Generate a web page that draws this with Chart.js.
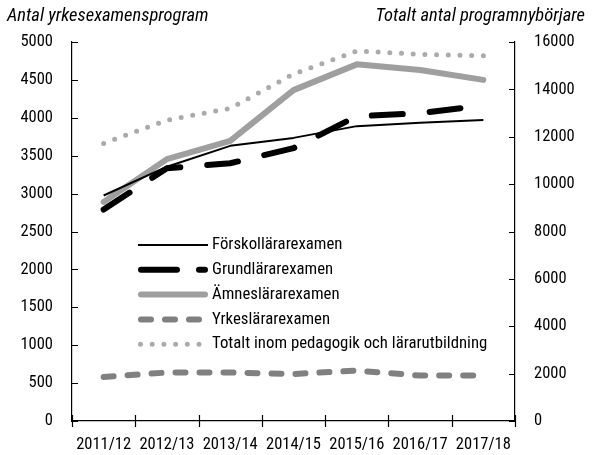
<!DOCTYPE html>
<html>
<head>
<meta charset="utf-8">
<script src="https://cdn.jsdelivr.net/npm/chart.js@4"></script>
<style>
  body { margin: 0; background: #fff; }
  #wrap { width: 592px; height: 455px; }
</style>
</head>
<body>
<div id="wrap"><canvas id="myChart" width="592" height="455"></canvas></div>
<script>
const fontFam = '"Roboto Condensed", "Liberation Sans Narrow", sans-serif';

const years = ['2011/12', '2012/13', '2013/14', '2014/15', '2015/16', '2016/17', '2017/18'];
const forskollarar = [2975, 3355, 3630, 3735, 3890, 3935, 3970];
const grundlarar = [2790, 3335, 3400, 3600, 4020, 4060, 4165];
const amneslarar = [2890, 3455, 3695, 4365, 4705, 4630, 4500];
const yrkeslarar = [580, 640, 640, 620, 665, 600, 600];
const totalt = [11720, 12700, 13200, 14650, 15620, 15480, 15420];

const leftTitle = 'Antal yrkesexamensprogram';
const rightTitle = 'Totalt antal programnybörjare';

// ticks pointing inward + titles + legend inside the plot
const extras = {
    id: 'extras',
    afterDraw(chart) {
        const ctx = chart.ctx;
        const area = chart.chartArea;
        const y = chart.scales.y, y2 = chart.scales.y2, x = chart.scales.x;
        ctx.save();
        ctx.strokeStyle = '#000';
        ctx.lineWidth = 1.2;
        ctx.setLineDash([]);
        ctx.beginPath();
        y.ticks.forEach(t => {
            const py = Math.round(y.getPixelForValue(t.value)) + 0.5;
            ctx.moveTo(area.left, py); ctx.lineTo(area.left + 6, py);
        });
        y2.ticks.forEach(t => {
            const py = Math.round(y2.getPixelForValue(t.value)) + 0.5;
            ctx.moveTo(area.right, py); ctx.lineTo(area.right - 6, py);
        });
        const step = (x.getPixelForValue(1) - x.getPixelForValue(0));
        for (let i = 0; i <= years.length; i++) {
            const px = Math.round(x.getPixelForValue(i) - step / 2) + 0.5;
            ctx.moveTo(px, area.bottom - 6); ctx.lineTo(px, area.bottom + 6);
        }
        ctx.stroke();

        // axis titles
        ctx.fillStyle = '#000';
        ctx.font = 'italic 18.5px ' + fontFam;
        ctx.textBaseline = 'alphabetic';
        ctx.textAlign = 'left';
        ctx.fillText(leftTitle, 7, 21);
        ctx.textAlign = 'right';
        ctx.fillText(rightTitle, 585, 21);

        // legend
        ctx.font = '16.8px ' + fontFam;
        ctx.textAlign = 'left';
        ctx.textBaseline = 'middle';
        const lx = area.left + 66;
        let ly = area.top + 203;
        chart.data.datasets.forEach(ds => {
            const cap = ds.borderCapStyle === 'round' ? ds.borderWidth / 2 : 0;
            ctx.save();
            ctx.strokeStyle = ds.borderColor;
            ctx.lineWidth = ds.borderWidth;
            ctx.lineCap = ds.borderCapStyle || 'butt';
            ctx.setLineDash(ds.legendDash || ds.borderDash || []);
            ctx.beginPath();
            ctx.moveTo(lx + cap, ly);
            ctx.lineTo(lx + 70 - cap, ly);
            ctx.stroke();
            ctx.restore();
            ctx.fillText(ds.label, lx + 74, ly);
            ly += 24.8;
        });
        ctx.restore();
    }
};

const plain = v => String(v);

const ctx = document.getElementById('myChart');
const chart = new Chart(ctx, {
    type: 'line',
    data: {
        labels: years,
        datasets: [{
            label: 'Förskollärarexamen',
            data: forskollarar,
            yAxisID: 'y',
            borderColor: '#000',
            borderWidth: 2,
            borderCapStyle: 'butt'
        }, {
            label: 'Grundlärarexamen',
            data: grundlarar,
            yAxisID: 'y',
            borderColor: '#000',
            borderWidth: 6,
            borderDash: [31, 27],
            legendDash: [36, 22],
            borderCapStyle: 'round'
        }, {
            label: 'Ämneslärarexamen',
            data: amneslarar,
            yAxisID: 'y',
            borderColor: '#9f9f9f',
            borderWidth: 6,
            borderCapStyle: 'round'
        }, {
            label: 'Yrkeslärarexamen',
            data: yrkeslarar,
            yAxisID: 'y',
            borderColor: '#808080',
            borderWidth: 6,
            borderDash: [10, 14],
            borderCapStyle: 'round'
        }, {
            label: 'Totalt inom pedagogik och lärarutbildning',
            data: totalt,
            yAxisID: 'y2',
            borderColor: '#ababab',
            borderWidth: 5,
            borderDash: [0, 11.7],
            borderCapStyle: 'round'
        }]
    },
    options: {
        responsive: false,
        animation: false,
        devicePixelRatio: 1,
        layout: { padding: { top: 42, left: 0, right: 0, bottom: 0 } },
        elements: { point: { radius: 0 }, line: { tension: 0, borderJoinStyle: 'round' } },
        plugins: { legend: { display: false }, tooltip: { enabled: false } },
        scales: {
            x: {
                offset: true,
                grid: { display: false, drawTicks: false },
                border: { display: true, color: '#000', width: 1.2 },
                ticks: { color: '#000', padding: 14, maxRotation: 0, autoSkip: false,
                    font: { family: fontFam, size: 16.5 } },
                afterFit(s) { s.height = 34; }
            },
            y: {
                position: 'left',
                min: 0, max: 5000,
                grid: { display: false, drawTicks: false },
                border: { display: true, color: '#000', width: 1.2 },
                ticks: { stepSize: 500, color: '#000', padding: 19, callback: plain,
                    font: { family: fontFam, size: 16.5 } },
                afterFit(s) { s.width = 72; }
            },
            y2: {
                position: 'right',
                min: 0, max: 16000,
                grid: { display: false, drawTicks: false },
                border: { display: true, color: '#000', width: 1.2 },
                ticks: { stepSize: 2000, color: '#000', padding: 19, callback: plain,
                    font: { family: fontFam, size: 16.5 } },
                afterFit(s) { s.width = 77; }
            }
        }
    },
    plugins: [extras]
});
</script>
</body>
</html>
